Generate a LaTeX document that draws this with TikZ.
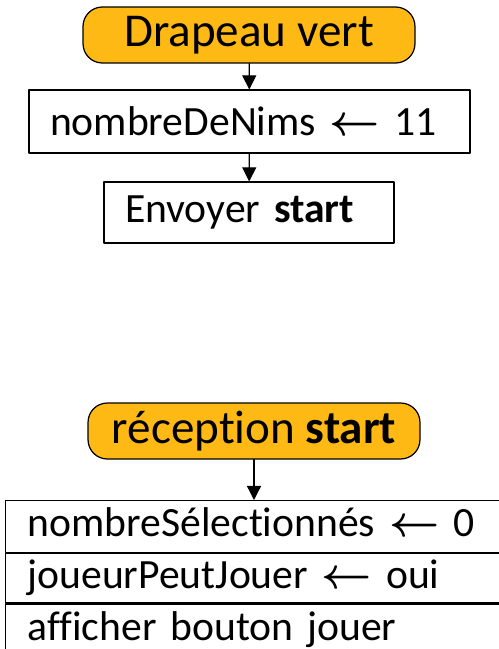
\documentclass[tikz,border=0pt]{standalone}
\usepackage{fontspec}
\setmainfont[Ligatures=NoCommon]{Carlito}
\usepackage{amsmath,bm}
\usepackage{xcolor}
\usepackage{tikz}
\usetikzlibrary{arrows.meta,calc,positioning}

\begin{document}
\begin{tikzpicture}[
  x=0.02cm, y=-0.02cm,
  line cap=round,
  line join=round,
  hat/.style={draw=black, fill=nimgold, line width=0.7pt, rounded corners=11pt,
    minimum width=6.64cm, minimum height=1.12cm, inner sep=0pt,
    font=\fontsize{26.8}{32}\selectfont},
  instr/.style={draw=black, line width=0.7pt, inner xsep=0.42cm, inner ysep=0pt,
    align=left, font=\fontsize{23.7}{28}\selectfont},
  stackrow/.style={instr, anchor=north west, inner xsep=0.44cm,
    text width=9.52cm, text height=0.5cm, text depth=0.1cm},
  flow/.style={-{Triangle[width=8pt,length=8pt]}, draw=black, line width=0.7pt}
]
\definecolor{nimgold}{HTML}{FFB914}

\useasboundingbox (0,0) rectangle (499,649);
\clip (0,0) rectangle (499,649);

% Script 1: green flag starts the game.
\node[hat] (flag) at (249,35) {Drapeau vert};
\node[instr, text width=7.98cm, minimum height=1.26cm] (init) at (249.5,121.5)
  {nombreDeNims $\bm{\leftarrow}$ 11};
\node[instr, text width=4.96cm, minimum height=1.22cm] (send) at (249,212.5)
  {Envoyer \textbf{start}};
\draw[flow] (flag) -- (init);
\draw[flow] (init) -- (send);

% Script 2: what happens when start is received.
\node[hat] (recv) at (254,431) {réception \textbf{start}};
\node[stackrow, minimum height=1.04cm] (sel) at (5,500)
  {nombreSélectionnés $\bm{\leftarrow}$ 0};
\node[stackrow, minimum height=0.98cm] (play) at (sel.south west)
  {joueurPeutJouer $\bm{\leftarrow}$ oui};
\node[stackrow, minimum height=1.04cm] (show) at (play.south west)
  {afficher bouton jouer};
\draw[flow] (recv.south) -- (recv.south |- sel.north);
\end{tikzpicture}
\end{document}
